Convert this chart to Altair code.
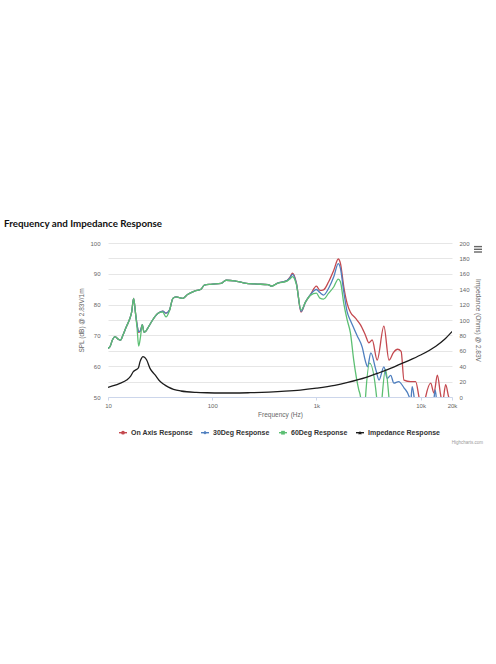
import altair as alt
import pandas as pd

# ---- SPL curves (dB @ 2.83V/1m) -------------------------------------------
freq_on = [10, 10.5, 11, 11.7, 12.5, 13.2, 14, 15, 16, 16.9, 17.6, 18.4, 19.0, 19.7,
           20.5, 21.3, 22.2, 23, 24, 26.8, 30, 33.5, 36, 38.9, 41.9, 45, 52, 58, 67.6,
           78, 84, 97, 122, 136, 164, 205, 255, 343, 373, 420, 522, 560, 590, 643, 712,
           785, 875, 1000, 1080, 1170, 1310, 1470, 1620, 1700, 1830, 1970, 2120, 2370,
           2650, 2960, 3190, 3430, 3830, 4440, 4970, 5500, 6000, 6500, 6920, 8000, 8960,
           9640, 10400, 11170, 12480, 13430, 14480, 15500, 16180, 17390, 18600, 19420, 20000]
spl_on = [65.8, 66.5, 68.4, 69.6, 68.8, 68.5, 70.3, 72.8, 75.0, 77.7, 82.0, 77.0, 73.5, 71.0,
          71.5, 73.5, 71.0, 71.3, 72.3, 75.0, 77.1, 77.9, 77.2, 78.2, 82.0, 82.5, 82.0, 83.3, 84.4,
          85.0, 86.3, 86.6, 86.9, 87.9, 87.7, 87.0, 86.7, 86.5, 86.0, 86.9, 87.8, 89.0, 90.2, 87.0, 77.6,
          80.8, 83.2, 86.0, 84.6, 84.8, 87.4, 91.2, 94.8, 93.4, 85.8, 80.4, 77.5, 75.6,
          73.4, 70.0, 67.6, 68.5, 62.0, 73.0, 62.0, 64.5, 65.5, 64.8, 55.5, 55.0, 55.0,
          50.0, 44.0, 50.0, 54.5, 51.3, 57.1, 51.0, 48.0, 54.0, 50.0, 49.0, 45.0]

freq_30 = [10, 10.5, 11, 11.7, 12.5, 13.2, 14, 15, 16, 16.9, 17.6, 18.4, 19.0, 19.7,
           20.5, 21.3, 22.2, 23, 24, 26.8, 30, 33.5, 36, 38.9, 41.9, 45, 52, 58, 67.6,
           78, 84, 97, 122, 136, 164, 205, 255, 343, 373, 420, 522, 560, 590, 643, 712,
           785, 875, 1000, 1080, 1170, 1310, 1470, 1620, 1700, 1830, 1970, 2120, 2200,
           2460, 2750, 2960, 3090, 3330, 3720, 3990, 4440, 4790, 5160, 5540, 6150, 6920,
           7780, 8000, 8300, 8750, 9500, 12000, 13300, 13800, 14300, 16000, 20000]
spl_30 = [65.8, 66.5, 68.4, 69.6, 68.8, 68.5, 70.3, 72.8, 75.0, 77.7, 82.0, 77.0, 73.5, 71.2,
          71.5, 73.5, 71.0, 71.3, 72.3, 75.0, 77.1, 77.9, 77.2, 78.2, 82.0, 82.5, 82.0, 83.3, 84.4,
          85.0, 86.3, 86.6, 86.9, 87.9, 87.7, 87.0, 86.7, 86.5, 86.0, 86.9, 87.8, 88.8, 89.8, 86.8, 77.8,
          80.8, 83.2, 84.9, 83.9, 83.1, 85.3, 89.1, 93.3, 91.8, 84.2, 77.7, 74.8, 73.6,
          69.9, 66.2, 61.5, 59.8, 64.3, 58.8, 55.5, 59.8, 56.0, 57.0, 54.5, 55.0, 53.0,
          50.0, 48.0, 53.4, 49.0, 44.0, 40.0, 48.0, 52.3, 48.0, 40.0, 35.0]

freq_60 = [10, 10.5, 11, 11.7, 12.5, 13.2, 14, 15, 16, 16.9, 17.6, 18.4, 19.0, 19.7,
           20.5, 21.3, 22.2, 23, 24, 26.8, 30, 33.5, 36, 38.9, 41.9, 45, 52, 58, 67.6,
           78, 84, 97, 122, 136, 164, 205, 255, 343, 373, 420, 522, 560, 590, 643, 712,
           785, 875, 1000, 1080, 1170, 1310, 1470, 1620, 1700, 1830, 1970, 2120, 2280,
           2550, 2650, 2800, 2960, 3240, 3780, 4000, 4270, 4600, 4960, 5300, 20000]
spl_60 = [65.8, 66.5, 68.4, 69.6, 68.8, 68.5, 70.3, 72.8, 75.0, 77.7, 82.0, 77.0, 72.5, 66.5,
          69.5, 73.5, 71.0, 71.3, 72.3, 75.0, 77.1, 77.6, 76.0, 78.0, 82.0, 82.5, 82.0, 83.3, 84.4,
          85.0, 86.3, 86.6, 86.9, 87.9, 87.7, 87.0, 86.7, 86.5, 86.0, 86.9, 87.6, 88.4, 89.1, 86.5, 78.2,
          80.8, 83.0, 83.7, 82.1, 81.8, 83.7, 85.8, 88.3, 87.4, 80.4, 75.1, 70.8, 62.0,
          52.3, 50.0, 35.0, 50.0, 61.0, 50.0, 35.0, 50.0, 59.0, 50.0, 35.0, 35.0]

# ---- Impedance (Ohms) -----------------------------------------------------
freq_imp = [10, 11.5, 13, 15.1, 16.5, 17.5, 18.9, 19.6, 20.3, 21, 21.6, 22.4, 23.5, 25.3,
            28.3, 31, 34, 38, 42.5, 50, 57, 70, 89, 120, 160, 232, 350, 500, 700, 1000,
            1500, 2000, 3000, 4000, 5000, 7000, 10000, 14000, 17000, 20000]
imp_ohms = [12.6, 15.0, 17.8, 22.0, 27.0, 32.9, 36.0, 38.0, 45.9, 50.5, 52.4, 51.5, 48.0, 37.2,
            28.6, 21.5, 16.9, 12.8, 10.0, 7.8, 6.8, 6.0, 5.5, 5.2, 5.2, 5.6, 6.4, 7.5, 9.0, 11.5,
            15.2, 19.0, 25.5, 31.5, 36.5, 45.0, 54.5, 66.0, 75.0, 85.0]

series_names = ["On Axis Response", "30Deg Response", "60Deg Response", "Impedance Response"]
series_colors = ["#c4494f", "#4f7fbf", "#5cbf73", "#1c1c1c"]
series_symbols = ["circle", "diamond", "square", "triangle-up"]

x_ticks = [10, 100, 1000, 10000, 20000]
spl_ticks = list(range(50, 101, 5))
imp_ticks = list(range(0, 201, 20))

LABEL_FONT = "Liberation Sans, Arial, sans-serif"
TITLE_FONT = "Lato, Liberation Sans, sans-serif"
W, H = 344, 154

x_scale = alt.Scale(type="log", domain=[10, 20000], nice=False)
x_axis = alt.Axis(
    values=x_ticks,
    labelExpr="datum.value >= 1000 ? (datum.value / 1000) + 'k' : datum.label",
    grid=False, ticks=True, tickSize=3, tickColor="#ccd6eb",
    domain=True, domainColor="#ccd6eb",
    labelFont=LABEL_FONT, labelFontSize=6, labelColor="#666666", labelPadding=2,
    labelOverlap=False, labelFlush=False,
    title="Frequency (Hz)", titleFont=LABEL_FONT, titleFontSize=6.5,
    titleFontWeight="normal", titleColor="#666666", titlePadding=3,
)
spl_axis = alt.Axis(
    orient="left", values=spl_ticks,
    labelExpr="datum.value % 10 == 0 ? datum.label : ''",
    grid=True, gridColor="#e6e6e6", gridWidth=1, ticks=False, domain=False,
    labelFont=LABEL_FONT, labelFontSize=6, labelColor="#666666", labelPadding=8,
    labelOverlap=False,
    title="SPL (dB) @ 2.83V/1m", titleFont=LABEL_FONT, titleFontSize=6.5,
    titleFontWeight="normal", titleColor="#666666", titlePadding=5,
)
imp_axis = alt.Axis(
    orient="right", values=imp_ticks, grid=False, ticks=False, domain=False,
    labelFont=LABEL_FONT, labelFontSize=6, labelColor="#666666", labelPadding=7,
    labelOverlap=False,
    title="Impedance (Ohms) @ 2.83V", titleFont=LABEL_FONT, titleFontSize=6.5,
    titleFontWeight="normal", titleColor="#666666", titlePadding=5,
)
spl_scale = alt.Scale(domain=[50, 100], nice=False, zero=False)


def spl_layer(freqs, values, color, with_y_axis):
    df = pd.DataFrame({"freq": freqs, "spl": values})
    return alt.Chart(df).mark_line(
        strokeWidth=1.3, clip=True, interpolate="monotone", color=color
    ).encode(
        x=alt.X("freq:Q", scale=x_scale, axis=x_axis),
        y=alt.Y("spl:Q", scale=spl_scale, axis=spl_axis if with_y_axis else None),
    )


layers = [
    spl_layer(freq_on, spl_on, series_colors[0], True),
    spl_layer(freq_30, spl_30, series_colors[1], False),
    spl_layer(freq_60, spl_60, series_colors[2], False),
    alt.Chart(pd.DataFrame({"freq": freq_imp, "ohms": imp_ohms})).mark_line(
        strokeWidth=1.3, clip=True, interpolate="monotone", color=series_colors[3]
    ).encode(
        x=alt.X("freq:Q", scale=x_scale, axis=x_axis),
        y=alt.Y("ohms:Q", scale=alt.Scale(domain=[0, 200], nice=False), axis=imp_axis),
    ),
]

one = pd.DataFrame({"k": [0]})


def text_at(x, y, text, **style):
    return alt.Chart(one).mark_text(text=text, baseline="middle", **style).encode(
        x=alt.value(x), y=alt.value(y)
    )


# chart title and credits line
layers.append(text_at(-104, -19, "Frequency and Impedance Response", align="left",
                      font=TITLE_FONT, fontSize=9.8, fontWeight="bold", color="#111111"))
layers.append(text_at(375, 200, "Highcharts.com", align="right",
                      font=LABEL_FONT, fontSize=4.5, color="#999999"))

# context-menu icon: three short bars
for bar_y in [3.6, 6.3, 9.0]:
    layers.append(alt.Chart(one).mark_rule(color="#666666", strokeWidth=1.4).encode(
        x=alt.value(366), x2=alt.value(374), y=alt.value(bar_y)))

# legend row: line stub, marker symbol and bold label for each series
legend_marker_x = [15, 97, 175, 252]
LEG_Y = 189.7
for name, col, sym, mx in zip(series_names, series_colors, series_symbols, legend_marker_x):
    layers.append(alt.Chart(one).mark_rule(color=col, strokeWidth=1.4).encode(
        x=alt.value(mx - 4), x2=alt.value(mx + 4), y=alt.value(LEG_Y)))
    layers.append(alt.Chart(one).mark_point(
        shape=sym, filled=True, size=14, opacity=1, color=col
    ).encode(x=alt.value(mx), y=alt.value(LEG_Y)))
    layers.append(text_at(mx + 8, LEG_Y, name, align="left", font=LABEL_FONT,
                          fontSize=7, fontWeight="bold", color="#333333"))

chart = alt.layer(*layers).resolve_scale(
    y="independent"
).properties(
    width=W, height=H,
    padding={"left": 108, "top": 243, "right": 40, "bottom": 260},
    autosize=alt.AutoSizeParams(type="none"),
    background="white",
).configure_view(stroke=None)

chart.save("out.html", embed_options={"renderer": "svg", "actions": False})
